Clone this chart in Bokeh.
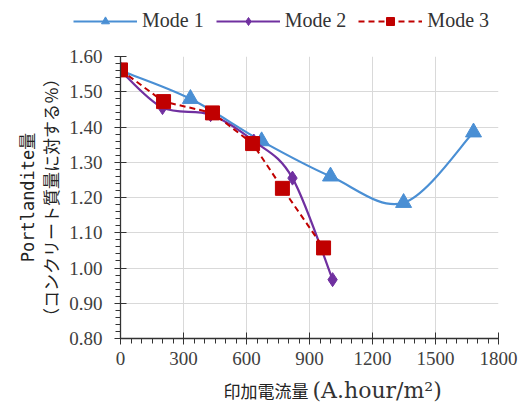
import numpy as np
from bokeh.plotting import figure
from bokeh.models import Range1d, Legend, LegendItem, FixedTicker, Label
from bokeh.embed import file_html
from bokeh.resources import INLINE

# ---- data ----
x_ticks = [0, 300, 600, 900, 1200, 1500, 1800]
y_ticks = [0.8, 0.9, 1.0, 1.1, 1.2, 1.3, 1.4, 1.5, 1.6]
y_tick_labels = ["0.80", "0.90", "1.00", "1.10", "1.20", "1.30", "1.40", "1.50", "1.60"]

mode1_x = [0, 333, 672, 1000, 1348, 1681]
mode1_y = [1.56, 1.48, 1.36, 1.26, 1.185, 1.385]
mode2_x = [0, 200, 429, 635, 819, 1010]
mode2_y = [1.56, 1.455, 1.435, 1.36, 1.255, 0.967]
mode3_x = [0, 205, 438, 629, 771, 967]
mode3_y = [1.562, 1.472, 1.44, 1.353, 1.226, 1.057]

labels = ["Mode 1", "Mode 2", "Mode 3"]
x_title_jp = "印加電流量"
x_title_unit = "(A.hour/m²)"
y_title = "Portlandite量\n（コンクリート質量に対する％）"
c1, c2, c3 = "#4A8FD4", "#7030A0", "#C00000"


def smooth(xs, ys):
    P = np.column_stack([xs, ys]).astype(float)
    ext = np.vstack([P[0], P, P[-1]])
    p0, p1, p2, p3 = ext[:-3], ext[1:-2], ext[2:-1], ext[3:]
    a = p1 + (p2 - p0) / 6.0
    b = p2 - (p3 - p1) / 6.0
    return dict(x0=p1[:, 0], y0=p1[:, 1], x1=p2[:, 0], y1=p2[:, 1],
                cx0=a[:, 0], cy0=a[:, 1], cx1=b[:, 0], cy1=b[:, 1])


# ---------- legend strip (page y 0-40) ----------
lg = figure(width=522, height=40, output_backend="svg", toolbar_location=None,
            x_axis_type=None, y_axis_type=None, x_range=Range1d(0, 1), y_range=Range1d(0, 1),
            min_border=0, min_border_left=0, min_border_right=0, min_border_top=0, min_border_bottom=0)
lg.outline_line_color = None
lg.grid.visible = False
nan = [float("nan")]
r1 = [lg.line(nan, nan, line_color=c1, line_width=2.2),
      lg.scatter(nan, nan, marker="triangle", size=13, color=c1)]
r2 = [lg.line(nan, nan, line_color=c2, line_width=2.2),
      lg.scatter(nan, nan, marker="diamond", size=13, color=c2)]
r3 = [lg.line(nan, nan, line_color=c3, line_width=2, line_dash="6 4"),
      lg.scatter(nan, nan, marker="square", size=11, color=c3)]
legend = Legend(items=[LegendItem(label=labels[0], renderers=r1),
                       LegendItem(label=labels[1], renderers=r2),
                       LegendItem(label=labels[2], renderers=r3)],
                orientation="horizontal", location=(73, 8),
                label_text_font="serif", label_text_font_size="20px",
                label_text_color="#333333", glyph_width=64, glyph_height=20,
                label_standoff=5, spacing=12, padding=0, margin=0,
                border_line_alpha=0, background_fill_alpha=0)
lg.add_layout(legend)

# ---------- main chart (page y 40-378) ----------
p = figure(width=522, height=338, output_backend="svg", toolbar_location=None,
           x_range=Range1d(0, 1800), y_range=Range1d(0.8, 1.6),
           min_border_left=120, min_border_right=24, min_border_top=16, min_border_bottom=40)
p.outline_line_color = None
p.background_fill_color = "white"

for ax in (p.xaxis[0], p.yaxis[0]):
    ax.axis_line_color = "#333333"
    ax.axis_line_width = 1.3
    ax.major_tick_line_color = "#333333"
    ax.minor_tick_line_color = "#333333"
    ax.major_tick_in = 6
    ax.major_tick_out = 6
    ax.minor_tick_in = 0
    ax.minor_tick_out = 5
    ax.major_label_text_font = "Times New Roman"
    ax.major_label_text_font_size = "19px"
    ax.major_label_text_color = "#404040"

p.xaxis.ticker = FixedTicker(ticks=x_ticks, minor_ticks=list(range(0, 1801, 50)))
p.yaxis.ticker = FixedTicker(ticks=y_ticks, minor_ticks=[round(0.8 + 0.02 * i, 2) for i in range(41)])
p.yaxis.major_label_overrides = {t: l for t, l in zip(y_ticks, y_tick_labels)}
p.xaxis.major_label_standoff = 7
p.yaxis.major_label_standoff = 12

p.yaxis.axis_label = y_title
p.yaxis.axis_label_text_font = "DejaVu Sans Mono, Noto Sans CJK JP"
p.yaxis.axis_label_text_font_size = "17px"
p.yaxis.axis_label_text_font_style = "normal"
p.yaxis.axis_label_text_color = "#222222"
p.yaxis.axis_label_standoff = 4

p.xgrid.ticker = FixedTicker(ticks=x_ticks)
p.ygrid.ticker = FixedTicker(ticks=y_ticks)
p.xgrid.grid_line_color = "#D9D9D9"
p.ygrid.grid_line_color = "#D9D9D9"

p.bezier(**smooth(mode1_x, mode1_y), line_color=c1, line_width=2.2)
p.scatter(mode1_x, mode1_y, marker="triangle", size=16, color=c1)
p.bezier(**smooth(mode2_x, mode2_y), line_color=c2, line_width=2.2)
p.scatter(mode2_x, mode2_y, marker="diamond", size=14, color=c2)
p.line(mode3_x, mode3_y, line_color=c3, line_width=2, line_dash="6 4")
p.scatter(mode3_x, mode3_y, marker="square", size=14, color=c3)

# ---------- x-axis title strip (page y 378-402) ----------
xt = figure(width=522, height=24, output_backend="svg", toolbar_location=None,
            x_axis_type=None, y_axis_type=None, x_range=Range1d(0, 522), y_range=Range1d(0, 1),
            min_border=0, min_border_left=0, min_border_right=0, min_border_top=0, min_border_bottom=0)
xt.outline_line_color = None
xt.grid.visible = False
xt.add_layout(Label(x=308, y=0.5, text=x_title_jp, text_align="right", text_baseline="middle",
                    text_font="Noto Sans CJK JP", text_font_size="17px", text_color="#222222"))
xt.add_layout(Label(x=312, y=0.5, text=x_title_unit, text_align="left", text_baseline="middle",
                    text_font="DejaVu Serif", text_font_size="22px", text_color="#333333"))

open("out.html", "w").write(file_html([lg, p, xt], INLINE))
